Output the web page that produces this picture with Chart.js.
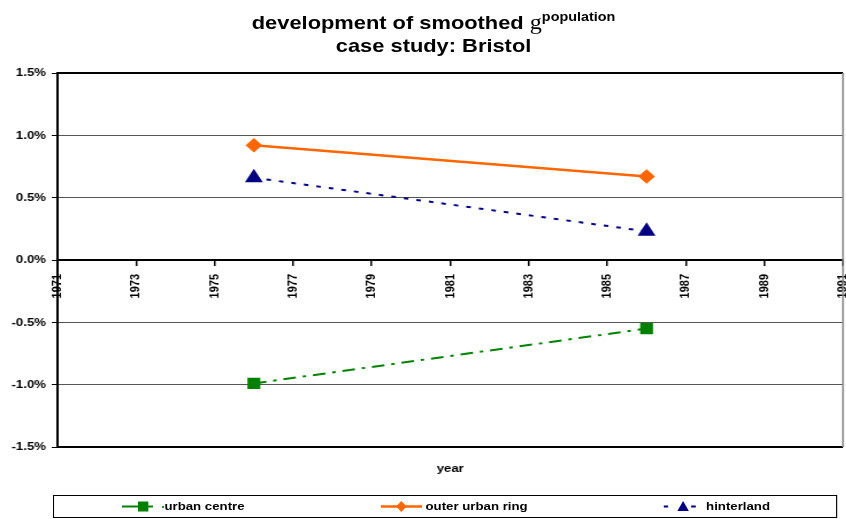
<!DOCTYPE html>
<html>
<head>
<meta charset="utf-8">
<script src="https://cdn.jsdelivr.net/npm/chart.js@4/dist/chart.umd.min.js"></script>
<style>
  body { margin: 0; background: #fff; overflow: hidden; font-family: "Liberation Sans", Arial, sans-serif; }
  /* the reference is stretched sideways, so the whole page is drawn narrow and widened */
  #wrap { position: relative; width: 736px; height: 519px; transform: scaleX(1.15); transform-origin: 0 0; }
  #title { position: absolute; left: 9px; top: 7px; width: 736px; text-align: center;
    font-weight: bold; font-size: 19px; line-height: 23px; color: #000; }
  #title .g { font-family: "Liberation Serif", "Times New Roman", serif; font-weight: normal; font-size: 21px; }
  #title sup { font-size: 12.5px; position: relative; top: -1px; }
  #legend { position: absolute; left: 46px; top: 495px; width: 682px; height: 23px;
    border: 1px solid #000; box-sizing: border-box; font-weight: bold; font-size: 11.5px; }
  .item { position: absolute; top: 0; height: 21px; line-height: 21px; }
  .item svg { position: absolute; top: 0; left: 0; }
  .item span { position: absolute; top: 0; white-space: nowrap; }
</style>
</head>
<body>
<div id="wrap">
  <canvas id="chart" width="742" height="519"></canvas>
  <div id="title">development of smoothed <span class="g">g</span><sup>population</sup><br>case study: Bristol</div>
  <div id="legend">
    <div class="item" style="left:59px">
      <svg width="40" height="21"><line x1="0" y1="10.5" x2="27" y2="10.5" stroke="#008000" stroke-width="2"/><rect x="14" y="5.5" width="9" height="10" fill="#008000"/><rect x="35" y="10" width="1.5" height="2" fill="#008000"/></svg>
      <span style="left:37px">urban centre</span>
    </div>
    <div class="item" style="left:284px">
      <svg width="40" height="21"><line x1="0" y1="10.5" x2="36" y2="10.5" stroke="#FF6600" stroke-width="2.5"/><polygon points="18,5 22.5,10.5 18,16 13.5,10.5" fill="#FF6600"/></svg>
      <span style="left:39px">outer urban ring</span>
    </div>
    <div class="item" style="left:530px">
      <svg width="40" height="21"><line x1="0" y1="10.5" x2="4" y2="10.5" stroke="#000080" stroke-width="2"/><line x1="24" y1="10.5" x2="28" y2="10.5" stroke="#000080" stroke-width="2"/><polygon points="17,5 22,15 12,15" fill="#000080"/></svg>
      <span style="left:37px">hinterland</span>
    </div>
  </div>
</div>
<script>
const years = [1976, 1986];
const urbanCentre = [-0.99, -0.55];
const outerUrbanRing = [0.92, 0.67];
const hinterland = [0.66, 0.23];
const yearTicks = [1971, 1991, 2];
const yTicks = [-1.5, 1.5, 0.5];

const toPoints = (vals) => vals.map((v, i) => ({ x: years[i], y: v }));

const frame = {
  id: "frame",
  afterDraw(chart) {
    const { ctx, chartArea: a } = chart;
    ctx.save();
    ctx.strokeStyle = "#000";
    ctx.lineWidth = 2;
    ctx.beginPath();
    ctx.moveTo(a.left, a.top);
    ctx.lineTo(a.right, a.top);
    ctx.moveTo(a.left, a.bottom);
    ctx.lineTo(a.right, a.bottom);
    ctx.stroke();
    ctx.strokeStyle = "#888";
    ctx.lineWidth = 1.5;
    ctx.beginPath();
    ctx.moveTo(a.right, a.top);
    ctx.lineTo(a.right, a.bottom);
    ctx.stroke();
    ctx.restore();
  }
};

Chart.defaults.font.family = '"Liberation Sans", Arial, sans-serif';
Chart.defaults.font.weight = "bold";
Chart.defaults.font.size = 11.5;
Chart.defaults.color = "#000";

new Chart(document.getElementById("chart"), {
  type: "line",
  data: {
    datasets: [
      {
        label: "urban centre",
        data: toPoints(urbanCentre),
        borderColor: "#008000",
        backgroundColor: "#008000",
        borderWidth: 2,
        borderDash: [11, 6, 3, 6],
        pointStyle: "rect",
        pointRadius: 6.5,
        pointHoverRadius: 6.5,
      },
      {
        label: "outer urban ring",
        data: toPoints(outerUrbanRing),
        borderColor: "#FF6600",
        backgroundColor: "#FF6600",
        borderWidth: 2.5,
        pointStyle: "rectRot",
        pointRadius: 5.5,
        pointHoverRadius: 5.5,
      },
      {
        label: "hinterland",
        data: toPoints(hinterland),
        borderColor: "#000080",
        backgroundColor: "#000080",
        borderWidth: 2,
        borderDash: [4, 7],
        pointStyle: "triangle",
        pointRadius: 7,
        pointHoverRadius: 7,
      },
    ],
  },
  options: {
    responsive: false,
    animation: false,
    layout: { padding: { top: 73, right: 0, bottom: 41, left: 0 } },
    plugins: { legend: { display: false }, title: { display: false }, tooltip: { enabled: false } },
    scales: {
      x: {
        type: "linear",
        position: { y: 0 },
        min: yearTicks[0],
        max: yearTicks[1],
        ticks: {
          stepSize: yearTicks[2],
          minRotation: 90,
          maxRotation: 90,
          padding: 9,
          font: { size: 11 },
          callback: (v) => String(v),
        },
        grid: { drawOnChartArea: false, color: "#000", tickLength: 5, lineWidth: 1.5 },
        border: { color: "#000", width: 2 },
        afterFit(s) { s.paddingLeft = 0; s.paddingRight = 0; },
      },
      x2: {
        type: "linear",
        position: "bottom",
        min: yearTicks[0],
        max: yearTicks[1],
        ticks: { display: false },
        grid: { display: false },
        border: { display: false },
        title: { display: true, text: "year", font: { size: 11.5, weight: "bold" }, padding: { top: 0, bottom: 2 } },
        afterFit(s) { s.height = 31; s.paddingLeft = 0; s.paddingRight = 0; },
      },
      y: {
        min: yTicks[0],
        max: yTicks[1],
        ticks: { stepSize: yTicks[2], padding: 5, callback: (v) => v.toFixed(1) + "%" },
        grid: { color: "#555", lineWidth: 1, tickLength: 5, tickColor: "#000" },
        border: { color: "#000", width: 2 },
        afterFit(s) { s.width = 50; },
      },
    },
  },
  plugins: [frame],
});
</script>
</body>
</html>
